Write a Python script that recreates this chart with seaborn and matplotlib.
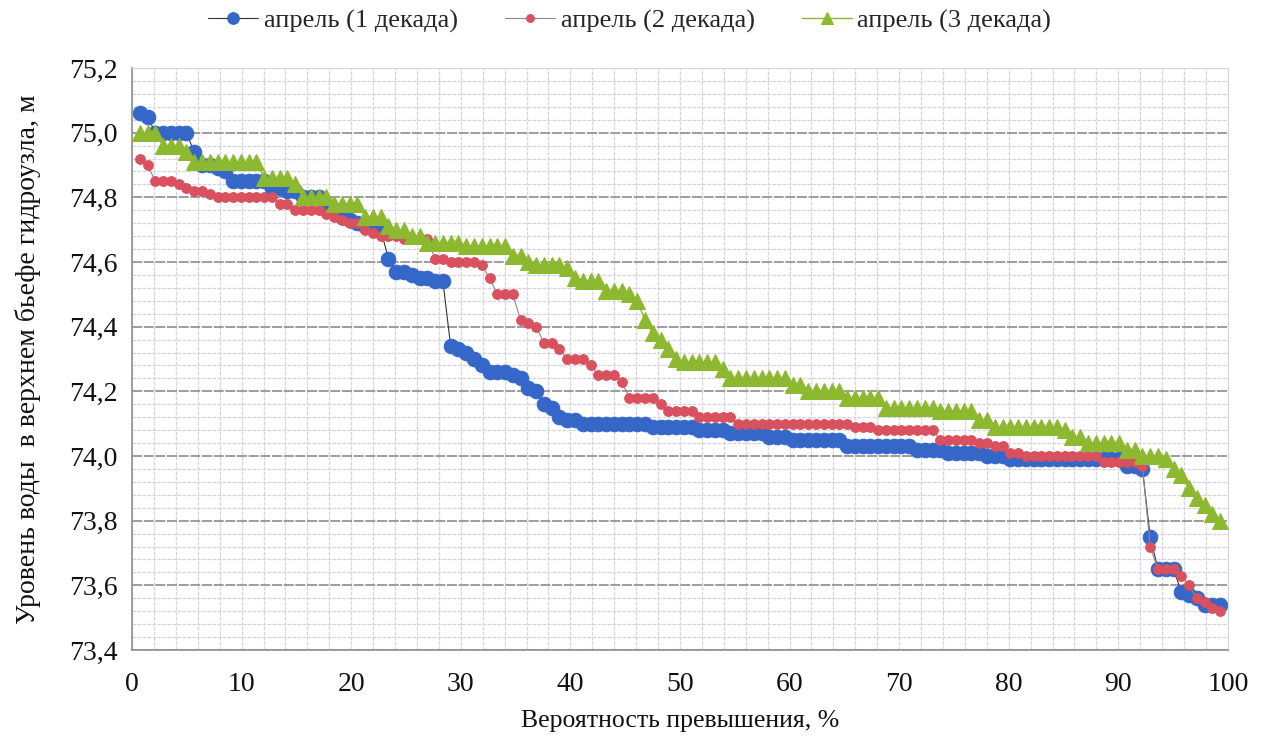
import numpy as np
import pandas as pd
import matplotlib
matplotlib.use('Agg')
import matplotlib.pyplot as plt
import seaborn as sns
from matplotlib.ticker import MultipleLocator, FuncFormatter

# Water level in upper pool, April, ranked by decade (140 values each)
level_dec1 = [
    75.06, 75.05, 75.00, 75.00, 75.00, 75.00, 75.00, 74.94, 74.90, 74.90,
    74.89, 74.88, 74.85, 74.85, 74.85, 74.85, 74.85, 74.83, 74.83, 74.82,
    74.82, 74.80, 74.80, 74.80, 74.78, 74.76, 74.74, 74.73, 74.72, 74.71,
    74.71, 74.70, 74.61, 74.57, 74.57, 74.56, 74.55, 74.55, 74.54, 74.54,
    74.34, 74.33, 74.32, 74.30, 74.28, 74.26, 74.26, 74.26, 74.25, 74.24,
    74.21, 74.20, 74.16, 74.15, 74.12, 74.11, 74.11, 74.10, 74.10, 74.10,
    74.10, 74.10, 74.10, 74.10, 74.10, 74.10, 74.09, 74.09, 74.09, 74.09,
    74.09, 74.09, 74.08, 74.08, 74.08, 74.08, 74.07, 74.07, 74.07, 74.07,
    74.07, 74.06, 74.06, 74.06, 74.05, 74.05, 74.05, 74.05, 74.05, 74.05,
    74.05, 74.03, 74.03, 74.03, 74.03, 74.03, 74.03, 74.03, 74.03, 74.03,
    74.02, 74.02, 74.02, 74.02, 74.01, 74.01, 74.01, 74.01, 74.01, 74.00,
    74.00, 74.00, 73.99, 73.99, 73.99, 73.99, 73.99, 73.99, 73.99, 73.99,
    73.99, 73.99, 73.99, 73.99, 73.99, 73.99, 73.99, 73.97, 73.97, 73.96,
    73.75, 73.65, 73.65, 73.65, 73.58, 73.57, 73.56, 73.54, 73.54, 73.54,
]
level_dec2 = [
    74.92, 74.90, 74.85, 74.85, 74.85, 74.84, 74.83, 74.82, 74.82, 74.81,
    74.80, 74.80, 74.80, 74.80, 74.80, 74.80, 74.80, 74.80, 74.78, 74.78,
    74.76, 74.76, 74.76, 74.76, 74.75, 74.74, 74.73, 74.72, 74.72, 74.70,
    74.69, 74.68, 74.68, 74.68, 74.67, 74.67, 74.67, 74.67, 74.61, 74.61,
    74.60, 74.60, 74.60, 74.60, 74.59, 74.55, 74.50, 74.50, 74.50, 74.42,
    74.41, 74.40, 74.35, 74.35, 74.33, 74.30, 74.30, 74.30, 74.28, 74.25,
    74.25, 74.25, 74.23, 74.18, 74.18, 74.18, 74.18, 74.16, 74.14, 74.14,
    74.14, 74.14, 74.12, 74.12, 74.12, 74.12, 74.12, 74.10, 74.10, 74.10,
    74.10, 74.10, 74.10, 74.10, 74.10, 74.10, 74.10, 74.10, 74.10, 74.10,
    74.10, 74.10, 74.09, 74.09, 74.09, 74.08, 74.08, 74.08, 74.08, 74.08,
    74.08, 74.08, 74.08, 74.05, 74.05, 74.05, 74.05, 74.05, 74.04, 74.04,
    74.03, 74.03, 74.01, 74.01, 74.00, 74.00, 74.00, 74.00, 74.00, 74.00,
    74.00, 74.00, 74.00, 74.00, 73.98, 73.98, 73.98, 73.98, 73.98, 73.97,
    73.72, 73.65, 73.65, 73.65, 73.63, 73.60, 73.56, 73.55, 73.53, 73.52,
]
level_dec3 = [
    75.00, 75.00, 75.00, 74.96, 74.96, 74.96, 74.94, 74.91, 74.91, 74.91,
    74.91, 74.91, 74.91, 74.91, 74.91, 74.91, 74.86, 74.86, 74.86, 74.86,
    74.84, 74.80, 74.80, 74.80, 74.80, 74.78, 74.78, 74.78, 74.78, 74.74,
    74.74, 74.74, 74.71, 74.70, 74.70, 74.68, 74.68, 74.66, 74.66, 74.66,
    74.66, 74.66, 74.65, 74.65, 74.65, 74.65, 74.65, 74.65, 74.62, 74.62,
    74.60, 74.59, 74.59, 74.59, 74.59, 74.58, 74.55, 74.54, 74.54, 74.54,
    74.51, 74.51, 74.51, 74.50, 74.48, 74.42, 74.38, 74.36, 74.33, 74.30,
    74.29, 74.29, 74.29, 74.29, 74.29, 74.27, 74.24, 74.24, 74.24, 74.24,
    74.24, 74.24, 74.24, 74.24, 74.22, 74.22, 74.20, 74.20, 74.20, 74.20,
    74.20, 74.18, 74.18, 74.18, 74.18, 74.18, 74.15, 74.15, 74.15, 74.15,
    74.15, 74.15, 74.15, 74.14, 74.14, 74.14, 74.14, 74.14, 74.11, 74.11,
    74.09, 74.09, 74.09, 74.09, 74.09, 74.09, 74.09, 74.09, 74.09, 74.08,
    74.06, 74.06, 74.04, 74.04, 74.04, 74.04, 74.04, 74.02, 74.02, 74.00,
    74.00, 74.00, 73.99, 73.96, 73.94, 73.90, 73.87, 73.85, 73.82, 73.80,
]
labels = ['апрель (1 декада)', 'апрель (2 декада)', 'апрель (3 декада)']

# exceedance probability p = m / (n + 1) * 100
rank = np.arange(1, len(level_dec1) + 1)
prob = rank / (len(level_dec1) + 1) * 100

df = pd.DataFrame({'prob': prob, 'd1': level_dec1, 'd2': level_dec2, 'd3': level_dec3})

sns.set_style('white')
plt.rcParams['font.family'] = ['Liberation Serif', 'DejaVu Serif']

fig = plt.figure(figsize=(12.62, 7.40), dpi=100)
ax = fig.add_axes([0.1046, 0.1216, 0.8684, 0.7865])

blue = '#3467c8'
red = '#d9505e'
green = '#8cb930'

# series drawn in order, later ones on top (like the original)
sns.lineplot(data=df, x='prob', y='d1', ax=ax, color='#333333', lw=0.8,
             marker='o', markersize=10.5, markerfacecolor=blue, markeredgecolor=blue,
             label=labels[0], zorder=2)
sns.lineplot(data=df, x='prob', y='d2', ax=ax, color='#8a8a8a', lw=0.8,
             marker='o', markersize=7, markerfacecolor=red, markeredgecolor=red,
             label=labels[1], zorder=3)
sns.lineplot(data=df, x='prob', y='d3', ax=ax, color=green, lw=1.0,
             marker='^', markersize=11, markerfacecolor=green, markeredgecolor=green,
             label=labels[2], zorder=4)

ax.set_xlim(0, 100)
ax.set_ylim(73.4, 75.2)
ax.xaxis.set_major_locator(MultipleLocator(10))
ax.xaxis.set_minor_locator(MultipleLocator(2))
ax.yaxis.set_major_locator(MultipleLocator(0.2))
ax.yaxis.set_minor_locator(MultipleLocator(0.04))
ax.yaxis.set_major_formatter(FuncFormatter(lambda v, p: f'{v:.1f}'.replace('.', ',')))

ax.grid(which='minor', axis='both', color='#d4d4dc', lw=0.9, ls=(0, (3, 1)))
ax.grid(which='major', axis='x', color='#d4d4dc', lw=0.9, ls=(0, (3, 1)))
ax.grid(which='major', axis='y', color='#8c8c8c', lw=1.2, ls=(0, (6, 1)))
ax.set_axisbelow(True)

for side in ['top', 'right']:
    ax.spines[side].set_color('#d4d4dc')
for side in ['left', 'bottom']:
    ax.spines[side].set_color('#909090')
    ax.spines[side].set_linewidth(1.2)

ax.tick_params(axis='both', which='major', direction='out', length=7, width=1.2,
               color='#909090', labelsize=20, labelcolor='#111111')
ax.tick_params(axis='x', which='major', pad=9)
ax.tick_params(which='minor', length=0)

ax.set_xlabel('Вероятность превышения, %', fontsize=18.5, color='#111111', labelpad=9)
ax.set_ylabel('Уровень воды  в верхнем бьефе гидроузла, м', fontsize=20, color='#111111', labelpad=20)

ax.legend(loc='center', bbox_to_anchor=(0.499, 0.972), bbox_transform=fig.transFigure,
          ncol=3, frameon=False, fontsize=19, handlelength=1.9, handletextpad=0.2,
          columnspacing=1.8, markerscale=0.8)

fig.savefig('out.png', dpi=100)
